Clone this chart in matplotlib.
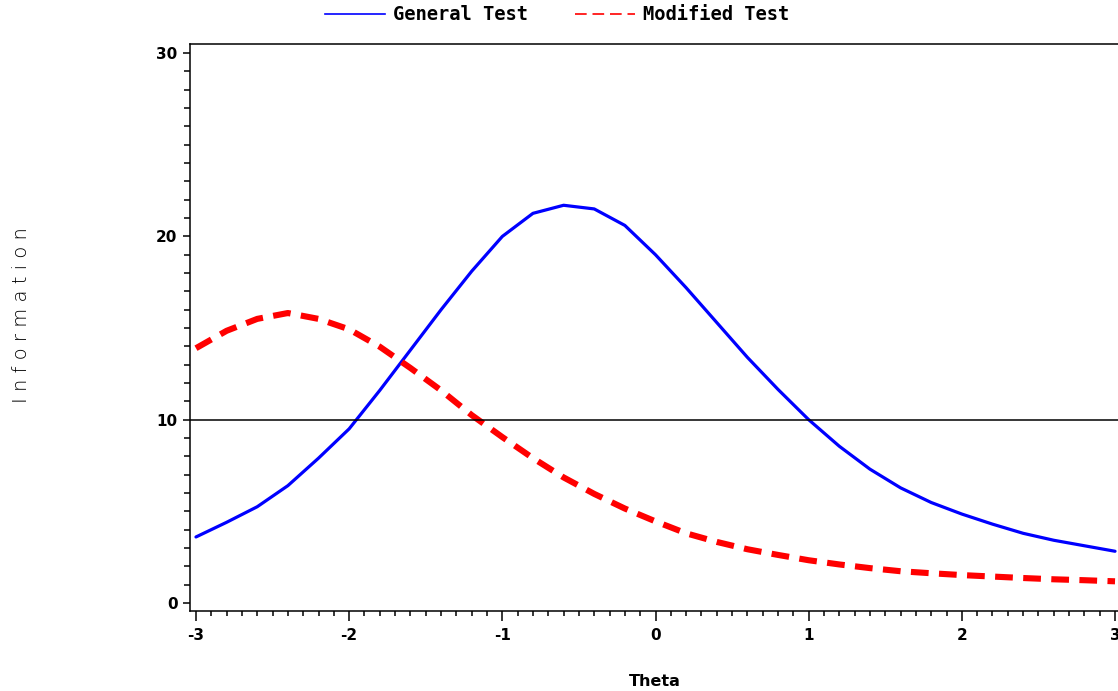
import matplotlib
matplotlib.use("Agg")
import matplotlib.pyplot as plt
from matplotlib.lines import Line2D
from matplotlib.ticker import MultipleLocator

theta = [-3.0, -2.8, -2.6, -2.4, -2.2, -2.0, -1.8, -1.6, -1.4, -1.2, -1.0,
         -0.8, -0.6, -0.4, -0.2, 0.0, 0.2, 0.4, 0.6, 0.8, 1.0,
         1.2, 1.4, 1.6, 1.8, 2.0, 2.2, 2.4, 2.6, 2.8, 3.0]
general = [3.6, 4.4, 5.25, 6.4, 7.9, 9.5, 11.6, 13.8, 16.0, 18.1, 20.0,
           21.26, 21.7, 21.5, 20.6, 19.0, 17.2, 15.3, 13.4, 11.65, 10.0,
           8.55, 7.3, 6.28, 5.48, 4.85, 4.3, 3.8, 3.42, 3.12, 2.82]
modified = [13.9, 14.85, 15.5, 15.82, 15.5, 14.93, 13.98, 12.82, 11.6, 10.25, 9.05,
            7.9, 6.85, 5.95, 5.15, 4.45, 3.8, 3.33, 2.93, 2.62, 2.33,
            2.1, 1.9, 1.73, 1.62, 1.52, 1.44, 1.36, 1.29, 1.24, 1.18]
ref_level = 10
xticks = [-3, -2, -1, 0, 1, 2, 3]
yticks = [0, 10, 20, 30]

W, H = 1118, 691
fig = plt.figure(figsize=(W / 100, H / 100), dpi=100)
ax = fig.add_axes([190 / W, 80 / H, 931 / W, 567 / H])

ax.plot(theta, general, color="#0000ff", lw=2.3, solid_capstyle="round",
        solid_joinstyle="round")
ax.plot(theta, modified, color="#ff0000", lw=4.4, dashes=(2.9, 1.7))
ax.axhline(ref_level, color="black", lw=1.1)

ax.set_xlim(-3.039, 3.039)
ax.set_ylim(-0.44, 30.5)
ax.set_xticks(xticks)
ax.set_yticks(yticks)
ax.xaxis.set_minor_locator(MultipleLocator(0.1))
ax.yaxis.set_minor_locator(MultipleLocator(1))
ax.tick_params(axis="x", which="major", length=7, width=1.1, pad=5)
ax.tick_params(axis="x", which="minor", length=3.8, width=1.1)
ax.tick_params(axis="y", which="major", length=5, width=1.1, pad=4)
ax.tick_params(axis="y", which="minor", length=4.3, width=1.1)
ax.spines["right"].set_visible(False)
for s in ("left", "bottom", "top"):
    ax.spines[s].set_linewidth(1.1)

ax.set_xticklabels([str(t) for t in xticks], fontsize=11, fontweight="bold",
                   family="DejaVu Sans")
ax.set_yticklabels([str(t) for t in yticks], fontsize=11, fontweight="bold",
                   family="DejaVu Sans")

fig.text(655 / W, 1 - 682 / H, "Theta", ha="center", va="center",
         fontsize=11.5, fontweight="bold", family="DejaVu Sans")
fig.text(22 / W, 1 - 315 / H, "I n f o r m a t i o n", ha="center", va="center",
         rotation=90, fontsize=14, fontweight="light", family="DejaVu Sans",
         color="black")

handles = [Line2D([], [], color="#0000ff", lw=1.2),
           Line2D([], [], color="#ff0000", lw=1.2, dashes=(7, 3.5))]
fig.legend(handles, ["General Test", "Modified Test"], loc="center",
           bbox_to_anchor=(557 / W, 1 - 15 / H), ncol=2, frameon=False,
           handlelength=3.2, handletextpad=0.43, columnspacing=2.5,
           prop={"family": "DejaVu Sans Mono", "weight": "bold", "size": 13.5})

fig.savefig("out.png", dpi=100)
